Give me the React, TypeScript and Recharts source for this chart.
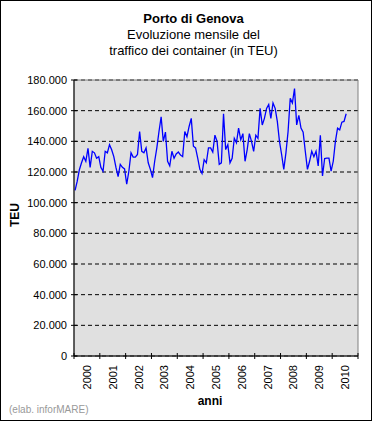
import { LineChart, Line, XAxis, YAxis, CartesianGrid, ReferenceArea } from "recharts";

const years = ["2000", "2001", "2002", "2003", "2004", "2005", "2006", "2007", "2008", "2009", "2010"];

// monthly TEU, Jan 2000 .. Jul 2010
const teu = [
  108000, 114000, 121500, 126000, 130000, 127000, 135500, 123000, 133500, 132500, 129000, 130000,
  123000, 120500, 133500, 132500, 137800, 134500, 130000, 123000, 117000, 125000, 123000, 122000,
  112000, 120500, 132500, 129700, 129700, 131400, 146400, 133500, 132500, 135700, 126000, 121700,
  116300, 127000, 135700, 146400, 156000, 140000, 146000, 127000, 124000, 133500, 129000, 131800,
  133000, 131000, 130000, 146400, 143000, 149700, 155000, 136800, 135700, 129000, 121700, 119000,
  128000, 126000, 135700, 135700, 133000, 144000, 140000, 125000, 126000, 158000, 134600, 137800,
  126000, 129000, 142000, 139000, 148600, 141000, 145000, 127000, 134600, 145000, 140000, 133500,
  144000, 142000, 161500, 150700, 155000, 161500, 164000, 155000, 165000, 161500, 153000, 140000,
  131400, 121700, 132500, 146400, 168000, 165000, 174400, 150700, 157000, 148600, 146000, 133500,
  121700, 127000, 133500, 130000, 133500, 124000, 144000, 117400, 128800, 129000, 129000, 120600,
  127000, 140000, 148600, 147500, 152500, 153000, 158000,
];

const yTicks = [0, 20000, 40000, 60000, 80000, 100000, 120000, 140000, 160000, 180000];

const months = years.length * 12;
const data = teu.map((v, i) => ({ month: i + 0.5, teu: v }));
// boundaries every 12 months get a tick mark, mid-year positions get the label
const xTicks: number[] = [];
for (let m = 0; m <= months; m += 6) xTicks.push(m);

const font = "'Liberation Sans', Arial, sans-serif";
const fmt = (v: number) => String(v).replace(/\B(?=(\d{3})+(?!\d))/g, ".");

function YearTick(props: any) {
  const { x, y, payload } = props;
  const v = payload.value;
  if (v % 12 === 0) {
    return <line x1={x} x2={x} y1={y - 3} y2={y + 3} stroke="#000" />;
  }
  const label = years[Math.floor(v / 12)];
  return (
    <text
      x={x}
      y={y + 9}
      transform={`rotate(-90 ${x} ${y + 9})`}
      textAnchor="end"
      dominantBaseline="central"
      fontSize={11}
      fontFamily={font}
      fill="#000"
    >
      {label}
    </text>
  );
}

function TeuTick(props: any) {
  const { x, y, payload } = props;
  return (
    <g>
      <line x1={x - 3} x2={x + 3} y1={y} y2={y} stroke="#000" />
      <text x={x - 7} y={y} textAnchor="end" dominantBaseline="central" fontSize={11} fontFamily={font} fill="#000">
        {fmt(payload.value)}
      </text>
    </g>
  );
}

export default function App() {
  return (
    <div style={{ position: "absolute", left: 0, top: 0, width: 372, height: 421, background: "#fff", fontFamily: font }}>
      <div style={{ position: "absolute", left: 0, top: 0 }}>
        <LineChart width={372} height={421} data={data} margin={{ top: 80, right: 14, bottom: 35, left: 0 }}>
          <CartesianGrid vertical={false} stroke="#000" strokeDasharray="4 3" fill="#E0E0E0" fillOpacity={1} />
          <XAxis
            dataKey="month"
            type="number"
            domain={[0, months]}
            ticks={xTicks}
            interval={0}
            height={30}
            tickLine={false}
            tickSize={0}
            tickMargin={0}
            axisLine={{ stroke: "#000" }}
            tick={(p: any) => <YearTick {...p} />}
          />
          <YAxis
            type="number"
            domain={[0, 180000]}
            ticks={yTicks}
            interval={0}
            width={74}
            tickLine={false}
            tickSize={0}
            tickMargin={0}
            axisLine={{ stroke: "#000" }}
            tick={(p: any) => <TeuTick {...p} />}
          />
          <ReferenceArea x1={0} x2={months} y1={0} y2={180000} fill="none" stroke="#808080" />
          <Line
            type="linear"
            dataKey="teu"
            stroke="#0000FF"
            strokeWidth={1.3}
            dot={false}
            isAnimationActive={false}
          />
        </LineChart>
      </div>
      <div style={{ position: "absolute", left: 0, width: 387, top: 11, textAlign: "center", fontSize: 13, lineHeight: "16px" }}>
        <div style={{ fontWeight: "bold" }}>Porto di Genova</div>
        <div>Evoluzione mensile del</div>
        <div>traffico dei container (in TEU)</div>
      </div>
      <div
        style={{
          position: "absolute",
          left: 15,
          top: 215,
          transform: "translate(-50%, -50%) rotate(-90deg)",
          fontSize: 12,
          fontWeight: "bold",
        }}
      >
        TEU
      </div>
      <div style={{ position: "absolute", left: 0, width: 420, top: 394, textAlign: "center", fontSize: 12, fontWeight: "bold" }}>
        anni
      </div>
      <div style={{ position: "absolute", left: 9, top: 404, fontSize: 10, color: "#999" }}>(elab. inforMARE)</div>
      <div style={{ position: "absolute", inset: 0, border: "1px solid #000", boxSizing: "border-box", pointerEvents: "none" }} />
    </div>
  );
}
